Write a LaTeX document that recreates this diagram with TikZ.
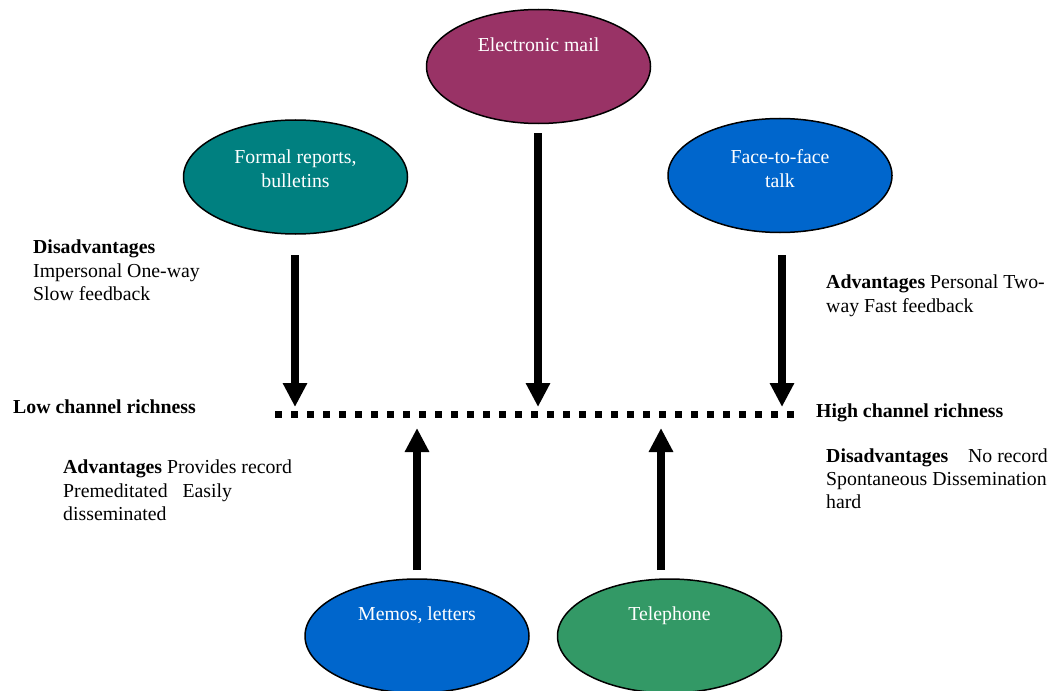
\documentclass[tikz,border=0pt]{standalone}
\usepackage{fontspec}
\setmainfont{Liberation Serif}
\usetikzlibrary{shapes.geometric,arrows.meta}

\definecolor{mailc}{HTML}{993366}
\definecolor{tealc}{HTML}{008080}
\definecolor{bluec}{HTML}{0066CC}
\definecolor{greenc}{HTML}{339966}

\tikzset{
  bubble/.style={ellipse, draw=black, line width=1.5pt, minimum width=224pt, minimum height=114pt, inner sep=0pt},
  bubtext/.style={text=white, inner sep=0pt, anchor=base, align=center},
  note/.style={inner sep=0pt, anchor=base west},
  bigarrow/.style={line width=8pt, -{Triangle[width=23pt,length=24pt]}},
  dotline/.style={line width=6.5pt, dash pattern=on 6.5pt off 9.5pt}
}

\begin{document}
\begin{tikzpicture}[x=1pt,y=-1pt,font=\fontsize{19.8}{23.5}\selectfont]
\useasboundingbox (0,0) rectangle (1051,690);

% media ellipses
\node[bubble, fill=mailc]  (mail)   at (538.5,66.5) {};
\node[bubble, fill=tealc]  (formal) at (295.5,177) {};
\node[bubble, fill=bluec]  (face)   at (780,175.5) {};
\node[bubble, fill=bluec]  (memos)  at (417,636) {};
\node[bubble, fill=greenc] (phone)  at (669.5,636) {};

\node[bubtext] (mailtxt)   at (538.5,52) {Electronic mail};
\node[bubtext] (formaltx1) at (295.5,163) {Formal reports,};
\node[bubtext] (formaltx2) at (295.5,187) {bulletins};
\node[bubtext] (facetx1)   at (780,163) {Face-to-face};
\node[bubtext] (facetx2)   at (780,187) {talk};
\node[bubtext] (memostxt)  at (417,620) {Memos, letters};
\node[bubtext] (phonetxt)  at (669.5,620) {Telephone};

% richness scale
\coordinate (lo) at (275,414.5);
\coordinate (hi) at (798,414.5);
\draw[dotline] (lo) -- (hi);
\coordinate (downtip) at (0,407);
\coordinate (uptip) at (0,428);

\node[note, font=\fontsize{19.8}{23.5}\selectfont\bfseries] (low) at (13,413) {Low channel richness};
\node[note, font=\fontsize{19.8}{23.5}\selectfont\bfseries] (high) at (816,417) {High channel richness};

% arrows onto the scale
\coordinate (fa) at (295,255);
\coordinate (ma) at (538,133);
\coordinate (ta) at (782,255);
\coordinate (la) at (417,570);
\coordinate (pa) at (661,570);
\draw[bigarrow] (fa) -- (fa |- downtip);
\draw[bigarrow] (ma) -- (ma |- downtip);
\draw[bigarrow] (ta) -- (ta |- downtip);
\draw[bigarrow] (la) -- (la |- uptip);
\draw[bigarrow] (pa) -- (pa |- uptip);

% notes
\node[note] (dl1) at (33,253) {\textbf{Disadvantages}};
\node[note] (dl2) at (33,277) {Impersonal One-way};
\node[note] (dl3) at (33,300) {Slow feedback};

\node[note] (ar1) at (826,288) {\textbf{Advantages} Personal Two-};
\node[note] (ar2) at (826,312) {way Fast feedback};

\node[note] (al1) at (63,473) {\textbf{Advantages} Provides record};
\node[note] (al2) at (63,497) {Premeditated\ \ \ Easily};
\node[note] (al3) at (63,520) {disseminated};

\node[note] (dr1) at (826,462) {\textbf{Disadvantages}\ \ \ \ No record};
\node[note] (dr2) at (826,485) {Spontaneous Dissemination};
\node[note] (dr3) at (826,508) {hard};
\end{tikzpicture}
\end{document}
